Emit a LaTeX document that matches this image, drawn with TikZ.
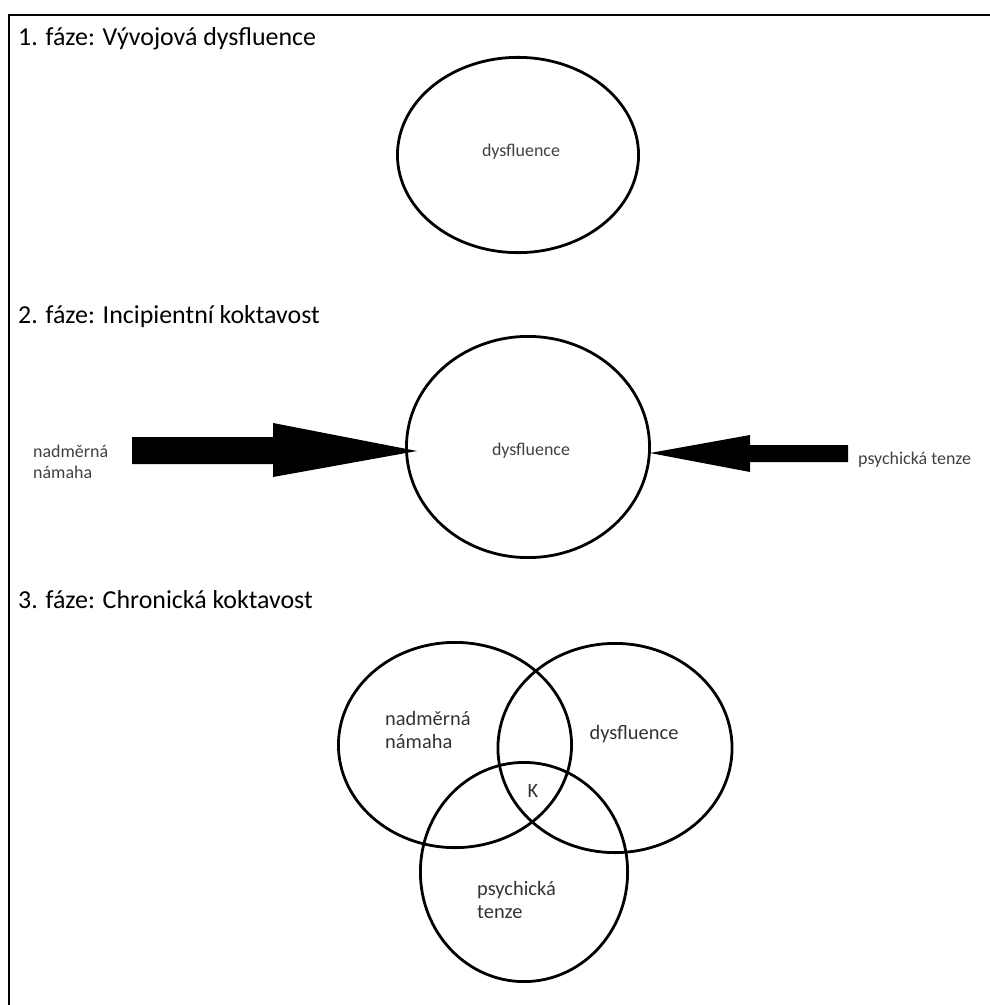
\documentclass[tikz,border=0pt]{standalone}
\usepackage{fontspec}
\setmainfont{Carlito}
\usetikzlibrary{shapes.geometric}

\tikzset{
  phase/.style={anchor=base west, inner sep=0pt, font=\fontsize{26}{30}\selectfont},
  lbl/.style={inner sep=0pt, text=black!75, font=\fontsize{18}{21}\selectfont, align=left},
  vlbl/.style={inner sep=0pt, text=black!80, font=\fontsize{20.5}{24}\selectfont, align=left},
  ring/.style={draw, shape=ellipse, line width=2.8pt, inner sep=0pt},
}

\begin{document}
\begin{tikzpicture}[x=1bp,y=-1bp]
  \useasboundingbox (0,0) rectangle (990,1005);
  %\draw[step=50,gray,very thin] (0,0) grid (990,1005);

  \draw[line width=3pt] (9,1005) -- (9,15) -- (990,15);

  % 1
  \node[phase] (t1) at (18,45) {1. fáze: Vývojová dysfluence};
  \node[ring, minimum width=242pt, minimum height=196pt] (r1) at (518,155) {};
  \node[lbl] (d1) at (521,152) {dysfluence};

  % 2
  \node[phase] (t2) at (18,323) {2. fáze: Incipientní koktavost};
  \node[ring, minimum width=244pt, minimum height=222pt] (r2) at (528,447) {};
  \node[lbl] (d2) at (531,451) {dysfluence};
  \node[lbl, anchor=west] (n2) at (33,462) {nadměrná\\námaha};
  \node[lbl, anchor=west] (p2) at (858,460) {psychická tenze};

  \coordinate (tipL) at (417,451);
  \coordinate (tipR) at (650,453);
  \fill (132,437) -- (273,437) -- (273,423) -- (tipL) -- (273,477) -- (273,464) -- (132,464) -- cycle;
  \fill (848,445) -- (750,445) -- (750,435) -- (tipR) -- (750,472) -- (750,462) -- (848,462) -- cycle;

  % 3
  \node[phase] (t3) at (18,608) {3. fáze: Chronická koktavost};
  \node[ring, minimum width=234pt, minimum height=206pt] (va) at (455,745) {};
  \node[ring, minimum width=235pt, minimum height=210pt] (vb) at (615,748) {};
  \node[ring, minimum width=208pt, minimum height=220pt] (vc) at (524,872) {};
  \node[vlbl, anchor=west] (na) at (385,730) {nadměrná\\námaha};
  \node[vlbl] (db) at (634,734) {dysfluence};
  \node[vlbl] (k) at (533,791) {K};
  \node[vlbl, anchor=west] (pc) at (477,900) {psychická\\tenze};
\end{tikzpicture}
\end{document}
